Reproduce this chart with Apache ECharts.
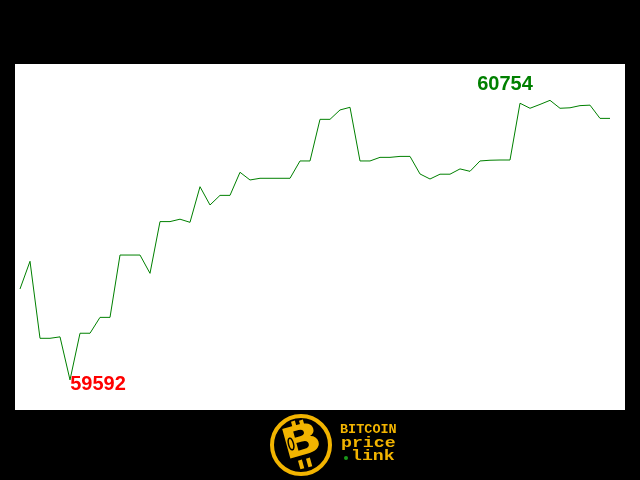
<!DOCTYPE html>
<html>
<head>
<meta charset="utf-8">
<script src="https://cdn.jsdelivr.net/npm/echarts@6/dist/echarts.min.js"></script>
<style>
html,body{margin:0;padding:0;background:#000;}
#c{width:640px;height:480px;}
</style>
</head>
<body>
<div id="c"></div>
<script>
// Bitcoin price series, one point per step
const prices = [
  59970, 60085, 59765, 59765, 59771, 59592, 59786, 59786, 59852, 59852,
  60111, 60111, 60111, 60035, 60250, 60250, 60260, 60247, 60395, 60319,
  60359, 60359, 60455, 60423, 60430, 60430, 60430, 60430, 60502, 60502,
  60675, 60675, 60714, 60725, 60502, 60502, 60517, 60517, 60521, 60521,
  60448, 60427, 60447, 60447, 60469, 60459, 60502, 60505, 60506, 60506,
  60742, 60721, 60737, 60754, 60721, 60723, 60732, 60734, 60679, 60679
];
const logoLines = ['BITCOIN', 'price', 'link'];

const chart = echarts.init(document.getElementById('c'), null, {renderer: 'canvas'});
const gold = '#f2b400';
const tilt = 0.27;
chart.setOption({
  backgroundColor: '#000',
  animation: false,
  grid: {left: 15, right: 15, top: 64, bottom: 70, show: true, backgroundColor: '#fff', borderWidth: 0},
  xAxis: {type: 'value', min: -0.5, max: 60.5, show: false},
  yAxis: {type: 'value', min: 59467, max: 60905, show: false, splitLine: {show: false}},
  series: [{
    type: 'line',
    data: prices.map((v, i) => [i, v]),
    symbol: 'none',
    lineStyle: {color: '#008000', width: 1},
    markPoint: {
      symbol: 'circle', symbolSize: 0,
      data: [
        {type: 'max', label: {show: true, position: 'inside', offset: [-45, -16], color: '#008000',
          fontFamily: 'Liberation Sans', fontWeight: 'bold', fontSize: 20, formatter: p => p.value}},
        {type: 'min', label: {show: true, position: 'inside', offset: [28, 4.5], color: '#ff0000',
          fontFamily: 'Liberation Sans', fontWeight: 'bold', fontSize: 20, formatter: p => p.value}}
      ]
    }
  }],
  graphic: [
    {type: 'circle', shape: {cx: 301, cy: 445, r: 29}, style: {fill: 'none', stroke: gold, lineWidth: 4}},
    {type: 'rect', shape: {x: 292, y: 421, width: 4, height: 9}, rotation: tilt, originX: 294, originY: 425, style: {fill: gold}},
    {type: 'rect', shape: {x: 300, y: 420, width: 4, height: 9}, rotation: tilt, originX: 302, originY: 424, style: {fill: gold}},
    {type: 'rect', shape: {x: 299, y: 460, width: 4, height: 9}, rotation: tilt, originX: 301, originY: 464, style: {fill: gold}},
    {type: 'rect', shape: {x: 307, y: 458, width: 4, height: 9}, rotation: tilt, originX: 309, originY: 462, style: {fill: gold}},
    {type: 'text', x: 302, y: 444, rotation: tilt, scaleX: 1.25,
      style: {text: 'B', fill: gold, font: 'bold 42px "DejaVu Sans"', textAlign: 'center', textVerticalAlign: 'middle'}},
    {type: 'ellipse', shape: {cx: 0, cy: 0, rx: 2.5, ry: 6}, x: 291, y: 444, rotation: tilt,
      style: {fill: 'none', stroke: '#000', lineWidth: 1.5}},
    {type: 'text', x: 340, y: 423, style: {text: logoLines[0], fill: gold, font: 'bold 13.5px "Liberation Mono"'}},
    {type: 'text', x: 341, y: 436.5, scaleX: 1.3, style: {text: logoLines[1], fill: gold, font: 'bold 14px "Liberation Mono"'}},
    {type: 'circle', shape: {cx: 346, cy: 458, r: 2}, style: {fill: '#1a9a1a'}},
    {type: 'text', x: 351, y: 449.5, scaleX: 1.3, style: {text: logoLines[2], fill: gold, font: 'bold 14px "Liberation Mono"'}}
  ]
});
</script>
</body>
</html>
